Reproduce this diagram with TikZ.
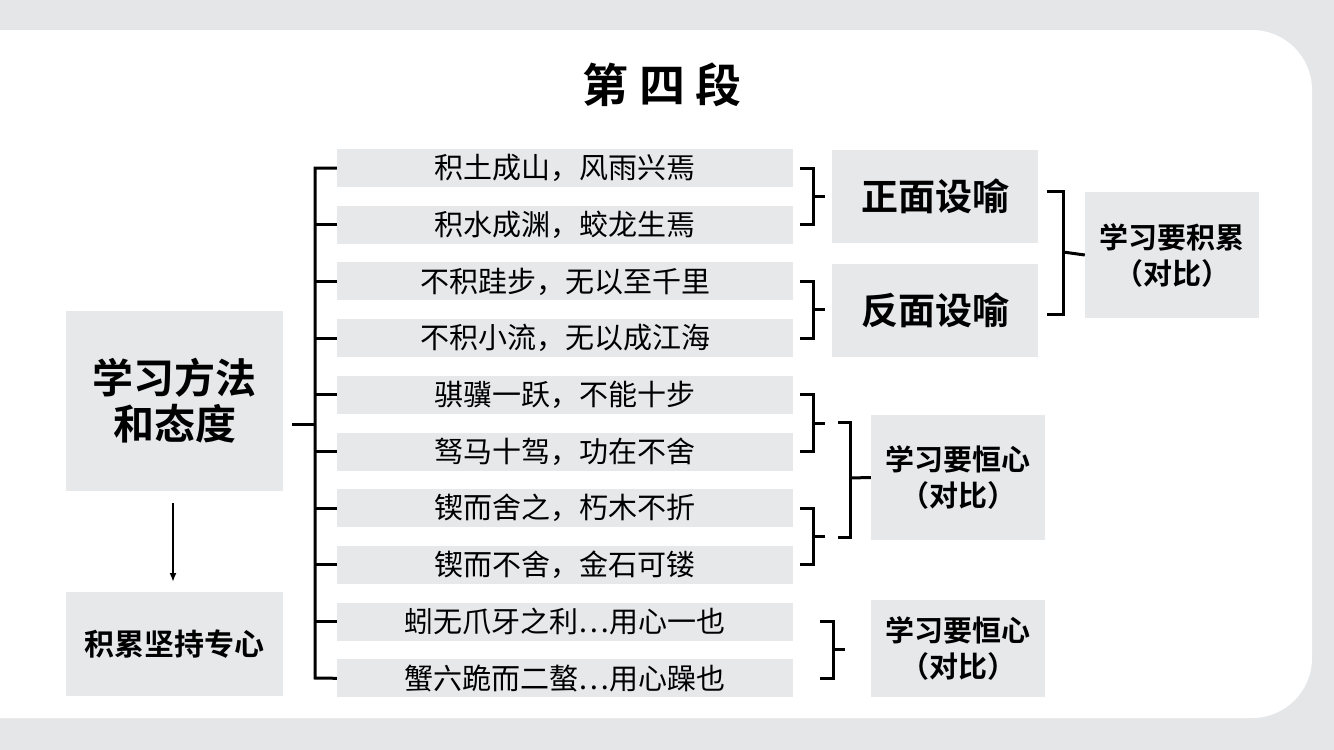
\documentclass[tikz,border=0pt]{standalone}
\usepackage{fontspec}
\usetikzlibrary{arrows.meta}
\setmainfont{Noto Sans CJK SC}
\newfontfamily\cjkb{Noto Sans CJK SC Bold}
\definecolor{bg}{HTML}{E4E6E8}
\definecolor{bx}{HTML}{E6E8EA}
\tikzset{
 gb/.style={fill=bx,draw=none,inner sep=0pt,align=center},
 row/.style={gb,minimum width=456pt,minimum height=38pt,font=\fontsize{29pt}{32pt}\selectfont},
 br/.style={line width=3pt},
}
\begin{document}
\begin{tikzpicture}[x=1pt,y=-1pt]
\useasboundingbox (0,0) rectangle (1334,750);
\fill[bg] (0,0) rectangle (1334,750);
\fill[white,rounded corners=60pt] (-60,30) rectangle (1312,718);
\node (title) at (662,85) {\cjkb\fontsize{46pt}{50pt}\selectfont 第 四 段};
% left boxes
\node[gb,minimum width=217pt,minimum height=180pt,font=\cjkb\fontsize{41pt}{46pt}\selectfont] (L1) at (174.5,401) {学习方法\\和态度};
\node[gb,minimum width=217pt,minimum height=104pt,font=\cjkb\fontsize{30pt}{33pt}\selectfont] (L2) at (174.5,644) {积累坚持专心};
\draw[line width=2pt,-{Latex[length=9pt,width=7pt]}] (173,503) -- (173,582);
% rows
\foreach \i/\t in {1/积土成山，风雨兴焉,2/积水成渊，蛟龙生焉,3/不积跬步，无以至千里,4/不积小流，无以成江海,5/骐骥一跃，不能十步,6/驽马十驾，功在不舍,7/锲而舍之，朽木不折,8/锲而不舍，金石可镂,9/蚓无爪牙之利…用心一也,10/蟹六跪而二螯…用心躁也}{
 \node[row] (r\i) at (565,{168+56.7*(\i-1)}) {\t};
}
% big bracket
\draw[br] (r1.west) -- (315,168) -- (315,678) -- (r10.west);
\foreach \i in {2,...,9}{\draw[br] (315,{168+56.7*(\i-1)}) -- (r\i.west);}
\draw[br] (292,424) -- (315,424);
% small brackets
\foreach \a/\b/\x in {1/2/813,3/4/813,5/6/813,7/8/813,9/10/833}{
 \draw[br] (\x-13,{168+56.7*(\a-1)}) -- (\x,{168+56.7*(\a-1)}) -- (\x,{168+56.7*(\b-1)}) -- (\x-13,{168+56.7*(\b-1)});
 \draw[br] (\x,{168+56.7*(\a-1)+28.35}) -- (\x+12,{168+56.7*(\a-1)+28.35});
}
\node[gb,minimum width=206pt,minimum height=93pt,font=\cjkb\fontsize{37pt}{40pt}\selectfont] (zm) at (935,196.5) {正面设喻};
\node[gb,minimum width=206pt,minimum height=93pt,font=\cjkb\fontsize{37pt}{40pt}\selectfont] (fm) at (935,310.5) {反面设喻};
\node[gb,minimum width=174pt,minimum height=126pt,font=\cjkb\fontsize{29pt}{36pt}\selectfont] (jl) at (1172,255) {学习要积累\\（对比）};
\node[gb,minimum width=174pt,minimum height=125pt,font=\cjkb\fontsize{29pt}{36pt}\selectfont] (hx1) at (958,477.5) {学习要恒心\\（对比）};
\node[gb,minimum width=174pt,minimum height=97pt,font=\cjkb\fontsize{29pt}{36pt}\selectfont] (hx2) at (958,648.5) {学习要恒心\\（对比）};
\draw[br] (1047,191) -- (1063,191) -- (1063,314) -- (1047,314);
\draw[br] (1063,252) -- (jl.west);
\draw[br] (838,422) -- (850,422) -- (850,537) -- (838,537);
\draw[br] (850,478) -- (hx1.west);
\end{tikzpicture}
\end{document}
